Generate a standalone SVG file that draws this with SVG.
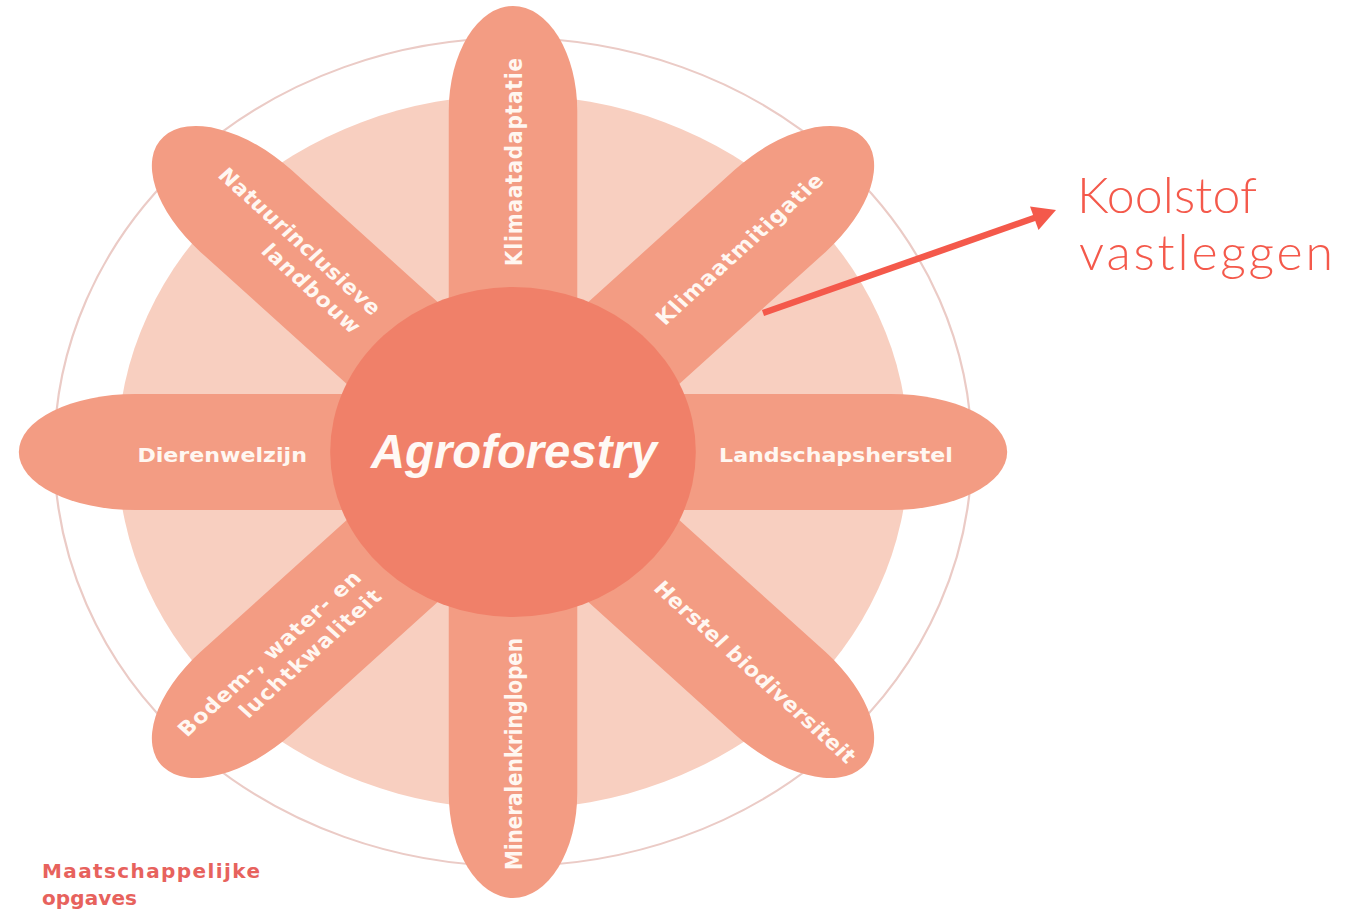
<svg xmlns="http://www.w3.org/2000/svg" xmlns:xlink="http://www.w3.org/1999/xlink" width="1361" height="913" viewBox="0 0 1361 913">
<style>
.petal{fill:#F39C83}
.lbl{fill:#FFF7F1;font-family:"DejaVu Sans",Lato,sans-serif;font-weight:700;font-size:20px}
.end{text-anchor:end}
.title{fill:#FFF9F5;font-family:"Liberation Sans",Arial,sans-serif;font-weight:700;font-style:italic;font-size:48px;text-anchor:middle}
.note{fill:#F4594B;font-family:Lato,"Liberation Sans",sans-serif;font-weight:300;font-size:50px}
.cap{fill:#E7625D;font-family:"DejaVu Sans",Lato,sans-serif;font-weight:700;font-size:20px}
</style>
<defs>
<rect id="petal" x="0" y="-58" width="446" height="116" rx="105" ry="58"/>
</defs>
<rect width="1361" height="913" fill="#FFFFFF"/>
<g id="flower" transform="translate(513,452) scale(1.108,1)">
  <g id="background">
    <circle r="357" fill="#F8CFC0"/>
    <circle r="414" fill="none" stroke="#EBCBC6" stroke-width="2"/>
  </g>
  <g id="petal-klimaatadaptatie">
    <use xlink:href="#petal" class="petal" transform="rotate(-90)"/>
    <text class="lbl" transform="rotate(-90)" x="186" y="8" textLength="208" lengthAdjust="spacing">Klimaatadaptatie</text>
  </g>
  <g id="petal-klimaatmitigatie">
    <use xlink:href="#petal" class="petal" transform="rotate(-45)"/>
    <text class="lbl" transform="rotate(-45)" x="186" y="8" textLength="204" lengthAdjust="spacing">Klimaatmitigatie</text>
  </g>
  <g id="petal-landschapsherstel">
    <use xlink:href="#petal" class="petal"/>
    <text class="lbl" x="186" y="10" textLength="211" lengthAdjust="spacing">Landschapsherstel</text>
  </g>
  <g id="petal-herstel-biodiversiteit">
    <use xlink:href="#petal" class="petal" transform="rotate(45)"/>
    <text class="lbl" transform="rotate(45)" x="186" y="8" textLength="248" lengthAdjust="spacing">Herstel biodiversiteit</text>
  </g>
  <g id="petal-mineralenkringlopen">
    <use xlink:href="#petal" class="petal" transform="rotate(90)"/>
    <text class="lbl end" transform="rotate(-90)" x="-186" y="8" textLength="232" lengthAdjust="spacing">Mineralenkringlopen</text>
  </g>
  <g id="petal-bodem-water-lucht">
    <use xlink:href="#petal" class="petal" transform="rotate(135)"/>
    <text class="lbl end" transform="rotate(-45)" x="-186" y="-6" textLength="224" lengthAdjust="spacing">Bodem-, water- en</text>
    <text class="lbl end" transform="rotate(-45)" x="-186" y="20" textLength="172" lengthAdjust="spacing">luchtkwaliteit</text>
  </g>
  <g id="petal-dierenwelzijn">
    <use xlink:href="#petal" class="petal" transform="rotate(180)"/>
    <text class="lbl end" x="-186" y="10" textLength="153" lengthAdjust="spacing">Dierenwelzijn</text>
  </g>
  <g id="petal-natuurinclusieve-landbouw">
    <use xlink:href="#petal" class="petal" transform="rotate(-135)"/>
    <text class="lbl end" transform="rotate(45)" x="-186" y="-6" textLength="198" lengthAdjust="spacing">Natuurinclusieve</text>
    <text class="lbl end" transform="rotate(45)" x="-186" y="20" textLength="117" lengthAdjust="spacing">landbouw</text>
  </g>
  <g id="center">
    <circle r="165" fill="#F08069"/>
  </g>
</g>
<g id="center-label">
  <text class="title" x="514" y="468" textLength="286" lengthAdjust="spacingAndGlyphs">Agroforestry</text>
</g>
<g id="connectors">
  <line x1="763" y1="313" x2="1037" y2="217" stroke="#F4594B" stroke-width="6.5"/>
  <polygon points="1056,210 1030,206.5 1038.5,230" fill="#F4594B"/>
</g>
<g id="koolstof">
  <text class="note" x="1077" y="213" textLength="180" lengthAdjust="spacing">Koolstof</text>
  <text class="note" x="1079" y="270" textLength="254" lengthAdjust="spacing">vastleggen</text>
</g>
<g id="maatschappelijke-opgaves">
  <text class="cap" x="42" y="878" textLength="218" lengthAdjust="spacing">Maatschappelijke</text>
  <text class="cap" x="42" y="905" textLength="95" lengthAdjust="spacing">opgaves</text>
</g>
</svg>
